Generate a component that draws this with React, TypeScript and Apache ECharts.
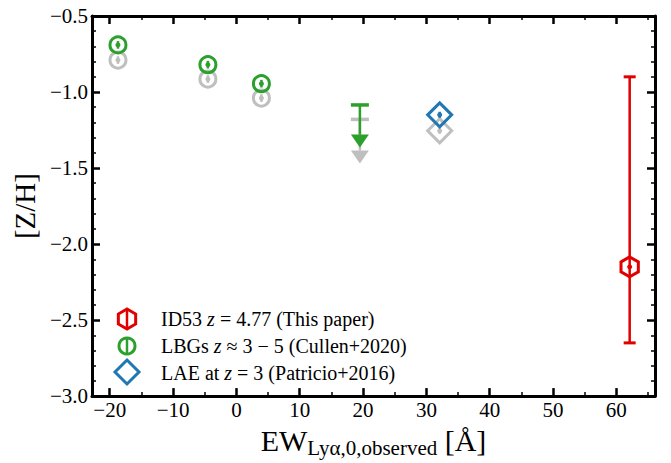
import React, { useEffect, useRef } from "react";
import * as echarts from "echarts";

const FONT = "'Liberation Serif', 'Times New Roman', serif";

// Axis ranges and ticks
const xRange = [-22.8, 66.1];
const yRange = [-3.0, -0.5];
const xMajorTicks = [-20, -10, 0, 10, 20, 30, 40, 50, 60];
const yMajorTicks = [-3.0, -2.5, -2.0, -1.5, -1.0, -0.5];

// Data rows: [EW, [Z/H], lower, upper]
const id53Point = [[62.1, -2.15, -2.65, -0.9]];
const lbgGreen = [
  [-18.7, -0.69, -0.715, -0.665],
  [-4.5, -0.82, -0.845, -0.795],
  [3.95, -0.945, -0.97, -0.92],
];
const lbgGray = [
  [-18.7, -0.79, -0.815, -0.765],
  [-4.5, -0.915, -0.94, -0.89],
  [3.95, -1.04, -1.065, -1.015],
];
// Upper limits: [EW, cap value, arrow tip]
const lbgGreenLimit = [[19.5, -1.085, -1.365]];
const lbgGrayLimit = [[19.5, -1.18, -1.47]];
const laeBlue = [[32.1, -1.15, -1.17, -1.13]];
const laeGray = [[32.1, -1.255, -1.275, -1.235]];

const RED = "#e00000";
const GREEN = "#2ca02c";
const BLUE = "#1f77b4";
const GRAY = "#bfbfbf";

function hexPoints(cx: number, cy: number, r: number) {
  return [90, 150, 210, 270, 330, 30].map((a) => {
    const t = (a * Math.PI) / 180;
    return [cx + r * Math.cos(t), cy - r * Math.sin(t)];
  });
}
function diamondPoints(cx: number, cy: number, r: number) {
  return [
    [cx, cy - r],
    [cx + r, cy],
    [cx, cy + r],
    [cx - r, cy],
  ];
}
function markerEl(shape: string, cx: number, cy: number, color: string, size: number) {
  const style = { fill: "none", stroke: color, lineWidth: 3 };
  if (shape === "circle") return { type: "circle", shape: { cx, cy, r: size }, style };
  if (shape === "hex") return { type: "polygon", shape: { points: hexPoints(cx, cy, size) }, style };
  return { type: "polygon", shape: { points: diamondPoints(cx, cy, size) }, style };
}

const errRender = (color: string, shape: string, size: number, capW: number) => (params: any, api: any) => {
  const x = api.value(0);
  const c = api.coord([x, api.value(1)]);
  const lo = api.coord([x, api.value(2)]);
  const hi = api.coord([x, api.value(3)]);
  const children: any[] = [
    { type: "line", shape: { x1: c[0], y1: lo[1], x2: c[0], y2: hi[1] }, style: { stroke: color, lineWidth: 2.5 } },
  ];
  if (capW > 0) {
    children.push({ type: "line", shape: { x1: c[0] - capW, y1: lo[1], x2: c[0] + capW, y2: lo[1] }, style: { stroke: color, lineWidth: 3 } });
    children.push({ type: "line", shape: { x1: c[0] - capW, y1: hi[1], x2: c[0] + capW, y2: hi[1] }, style: { stroke: color, lineWidth: 3 } });
  }
  children.push(markerEl(shape, c[0], c[1], color, size));
  children.push({ type: "circle", shape: { cx: c[0], cy: c[1], r: 2.5 }, style: { fill: color } });
  return { type: "group", children };
};

const limitRender = (color: string) => (params: any, api: any) => {
  const x = api.value(0);
  const cap = api.coord([x, api.value(1)]);
  const tip = api.coord([x, api.value(2)]);
  const triH = 13;
  const half = 9;
  return {
    type: "group",
    children: [
      { type: "line", shape: { x1: cap[0], y1: cap[1], x2: cap[0], y2: tip[1] - triH }, style: { stroke: color, lineWidth: 2.5 } },
      { type: "line", shape: { x1: cap[0] - half, y1: cap[1], x2: cap[0] + half, y2: cap[1] }, style: { stroke: color, lineWidth: 3.5 } },
      {
        type: "polygon",
        shape: { points: [[cap[0] - half, tip[1] - triH], [cap[0] + half, tip[1] - triH], [cap[0], tip[1]]] },
        style: { fill: color },
      },
    ],
  };
};

const fmtX = (v: number) => {
  if (Math.abs(v / 10 - Math.round(v / 10)) > 1e-6) return "";
  return v < 0 ? "\u2212" + Math.abs(v).toFixed(0) : v.toFixed(0);
};
const fmtY = (v: number) => {
  if (Math.abs(v / 0.5 - Math.round(v / 0.5)) > 1e-6) return "";
  return v < 0 ? "\u2212" + Math.abs(v).toFixed(1) : v.toFixed(1);
};

function xAxisDef(pos: string, showLabel: boolean) {
  return {
    type: "value",
    position: pos,
    min: xRange[0],
    max: xRange[1],
    minInterval: 10,
    maxInterval: 10,
    splitLine: { show: false },
    axisLine: { show: true, onZero: false, lineStyle: { color: "#000", width: 3 } },
    axisTick: { show: true, inside: true, length: 8, lineStyle: { color: "#000", width: 2.5 }, customValues: xMajorTicks },
    minorTick: { show: true, splitNumber: 2, length: 4, lineStyle: { color: "#000", width: 1.5 } },
    axisLabel: {
      show: showLabel,
      customValues: xMajorTicks,
      formatter: fmtX,
      fontFamily: FONT,
      fontSize: 21,
      color: "#000",
      margin: 3,
    },
  };
}
function yAxisDef(pos: string, showLabel: boolean) {
  return {
    type: "value",
    position: pos,
    min: yRange[0],
    max: yRange[1],
    minInterval: 0.5,
    maxInterval: 0.5,
    splitLine: { show: false },
    axisLine: { show: true, onZero: false, lineStyle: { color: "#000", width: 3 } },
    axisTick: { show: true, inside: true, length: 8, lineStyle: { color: "#000", width: 2.5 }, customValues: yMajorTicks },
    minorTick: { show: true, splitNumber: 5, length: 4, lineStyle: { color: "#000", width: 1.5 } },
    axisLabel: {
      show: showLabel,
      customValues: yMajorTicks,
      formatter: fmtY,
      fontFamily: FONT,
      fontSize: 21,
      color: "#000",
      margin: 4,
    },
  };
}

function legendIcon(shape: string, cx: number, cy: number, color: string, size: number, bar: boolean) {
  const children: any[] = [];
  if (bar) {
    children.push({ type: "line", shape: { x1: cx, y1: cy - 9, x2: cx, y2: cy + 9 }, style: { stroke: color, lineWidth: 2.5 } });
  }
  children.push(markerEl(shape, cx, cy, color, size));
  return { type: "group", children };
}

function legendText(x: number, y: number, pre: string, post: string) {
  const base = { fontFamily: FONT, fontSize: 20, fill: "#000" };
  return {
    type: "text",
    x,
    y,
    style: {
      text: `{r|${pre}}{i|z}{r|${post}}`,
      rich: { r: base, i: { ...base, fontStyle: "italic" } },
      verticalAlign: "middle",
      align: "left",
    },
  };
}

export default function App() {
  const ref = useRef<HTMLDivElement>(null);
  useEffect(() => {
    if (!ref.current) return;
    const chart = echarts.init(ref.current, null, { renderer: "svg" });
    const xMain: any = xAxisDef("bottom", true);
    xMain.name = "{a|EW}{s|Ly\u03b1,0,observed}{a| [\u00c5]}";
    xMain.nameLocation = "middle";
    xMain.nameGap = 21;
    xMain.nameTextStyle = {
      fontFamily: FONT,
      color: "#000",
      rich: {
        a: { fontFamily: FONT, fontSize: 30, lineHeight: 36, color: "#000" },
        s: { fontFamily: FONT, fontSize: 21, lineHeight: 20, verticalAlign: "bottom", color: "#000" },
      },
    };
    const yMain: any = yAxisDef("left", true);
    yMain.name = "[Z/H]";
    yMain.nameLocation = "middle";
    yMain.nameGap = 52;
    yMain.nameTextStyle = { fontFamily: FONT, fontSize: 29, color: "#000" };

    chart.setOption({
      animation: false,
      backgroundColor: "#fff",
      grid: { left: 92, right: 16, top: 16, bottom: 61, containLabel: false },
      xAxis: [xMain, xAxisDef("top", false)],
      yAxis: [yMain, yAxisDef("right", false)],
      series: [
        { type: "custom", name: "LBGs gray", data: lbgGray, encode: { x: 0, y: 1 }, renderItem: errRender(GRAY, "circle", 8, 0) },
        { type: "custom", name: "LBGs gray limit", data: lbgGrayLimit, encode: { x: 0, y: 1 }, renderItem: limitRender(GRAY) },
        { type: "custom", name: "LBGs", data: lbgGreen, encode: { x: 0, y: 1 }, renderItem: errRender(GREEN, "circle", 8, 0) },
        { type: "custom", name: "LBGs limit", data: lbgGreenLimit, encode: { x: 0, y: 1 }, renderItem: limitRender(GREEN) },
        { type: "custom", name: "LAE gray", data: laeGray, encode: { x: 0, y: 1 }, renderItem: errRender(GRAY, "diamond", 12, 0) },
        { type: "custom", name: "LAE", data: laeBlue, encode: { x: 0, y: 1 }, renderItem: errRender(BLUE, "diamond", 12, 0) },
        { type: "custom", name: "ID53", data: id53Point, encode: { x: 0, y: 1 }, renderItem: errRender(RED, "hex", 10, 6) },
      ],
      graphic: [
        legendIcon("hex", 127, 319, RED, 10, true),
        legendIcon("circle", 127, 346, GREEN, 8, true),
        legendIcon("diamond", 127, 372, BLUE, 12, false),
        legendText(161, 319, "ID53 ", " = 4.77 (This paper)"),
        legendText(161, 346, "LBGs ", " \u2248 3 \u2212 5 (Cullen+2020)"),
        legendText(161, 373, "LAE at ", " = 3 (Patricio+2016)"),
      ],
    });
    return () => chart.dispose();
  }, []);
  return <div ref={ref} style={{ width: 671, height: 463, position: "absolute", left: 0, top: 0 }} />;
}
